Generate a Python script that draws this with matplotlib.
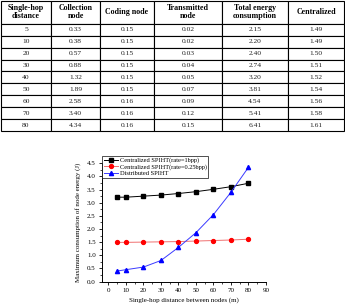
import matplotlib.pyplot as plt
import numpy as np
from matplotlib.ticker import MultipleLocator

plt.rcParams['font.family'] = ['Liberation Serif', 'DejaVu Serif']

# table data
header = ['Single-hop\ndistance', 'Collection\nnode', 'Coding node',
          'Transmitted\nnode', 'Total energy\nconsumption', 'Centralized']
distance = [5, 10, 20, 30, 40, 50, 60, 70, 80]
collection = ['0.33', '0.38', '0.57', '0.88', '1.32', '1.89', '2.58', '3.40', '4.34']
coding = ['0.15', '0.15', '0.15', '0.15', '0.15', '0.15', '0.16', '0.16', '0.16']
transmitted = ['0.02', '0.02', '0.03', '0.04', '0.05', '0.07', '0.09', '0.12', '0.15']
total = ['2.15', '2.20', '2.40', '2.74', '3.20', '3.81', '4.54', '5.41', '6.41']
centralized = ['1.49', '1.49', '1.50', '1.51', '1.52', '1.54', '1.56', '1.58', '1.61']

# chart data
dist = [5, 10, 20, 30, 40, 50, 60, 70, 80]
cent_1bpp = [3.21, 3.21, 3.25, 3.29, 3.35, 3.42, 3.51, 3.61, 3.74]
cent_025bpp = [1.49, 1.49, 1.50, 1.51, 1.52, 1.54, 1.56, 1.58, 1.61]
distributed = [0.40, 0.45, 0.55, 0.80, 1.30, 1.86, 2.55, 3.40, 4.35]

W, H = 345, 307
fig = plt.figure(figsize=(W / 100, H / 100), dpi=100)

# --- table ---
tax = fig.add_axes([0, 0, 1, 1])
tax.axis('off')
rows = [[str(d), c, co, t, to, ce] for d, c, co, t, to, ce in
        zip(distance, collection, coding, transmitted, total, centralized)]
col_w = [50, 49, 54, 68, 66, 56]
tbl = tax.table(cellText=rows, colLabels=header, colWidths=col_w,
                cellLoc='center',
                bbox=[1 / W, 1 - 131 / H, 343 / W, 130 / H])
tbl.auto_set_font_size(False)
for (r, c), cell in tbl.get_celld().items():
    cell.set_linewidth(0.8)
    cell.set_edgecolor('black')
    if r == 0:
        cell.set_height(23)
        cell.get_text().set_fontweight('bold')
        cell.get_text().set_fontsize(5.7)
        cell.get_text().set_linespacing(1.0)
    else:
        cell.set_height(12)
        cell.get_text().set_fontsize(5.4)
        cell.get_text().set_color('#222222')

# --- chart ---
ax = fig.add_axes([102 / W, 1 - 281.5 / H, (266 - 102) / W, (281.5 - 163.3) / H])
ax.plot(dist, cent_1bpp, color='black', lw=0.7, marker='s', ms=2.8,
        label='Centralized SPIHT(rate=1bpp)')
ax.plot(dist, cent_025bpp, color='#f07070', lw=0.7, marker='o', ms=2.8,
        mfc='#ff0000', mec='#ff0000', label='Centralized SPIHT(rate=0.25bpp)')
ax.plot(dist, distributed, color='#3a3aff', lw=0.7, marker='^', ms=3.0,
        mfc='#0000ff', mec='#0000ff', label='Distributed SPIHT')

ax.set_xlim(-3.7, 90)
ax.set_ylim(0, 4.5)
ax.set_xticks(np.arange(0, 91, 10))
ax.set_yticks(np.arange(0, 4.51, 0.5))
ax.set_yticklabels([f'{v:.1f}' for v in np.arange(0, 4.51, 0.5)])
ax.xaxis.set_minor_locator(MultipleLocator(5))
ax.yaxis.set_minor_locator(MultipleLocator(0.25))
ax.spines['top'].set_visible(False)
ax.spines['right'].set_visible(False)
for s in ['left', 'bottom']:
    ax.spines[s].set_linewidth(0.7)
ax.tick_params(labelsize=5, width=0.6, length=2.5, pad=2)
ax.tick_params(which='minor', width=0.5, length=1.5)
ax.set_xlabel('Single-hop distance between nodes (m)', fontsize=5, labelpad=3)
ax.set_ylabel('Maximum consumption of node energy (J)', fontsize=5, labelpad=4)
ax.patch.set_alpha(0)

leg = ax.legend(loc='upper left', bbox_to_anchor=(0, 1.062), fontsize=4.6,
                frameon=True, fancybox=False, edgecolor='black',
                handlelength=2.2, handletextpad=0.3, borderpad=0.25,
                labelspacing=0.1, borderaxespad=0)
leg.get_frame().set_linewidth(0.6)

fig.savefig('out.png', dpi=100)
